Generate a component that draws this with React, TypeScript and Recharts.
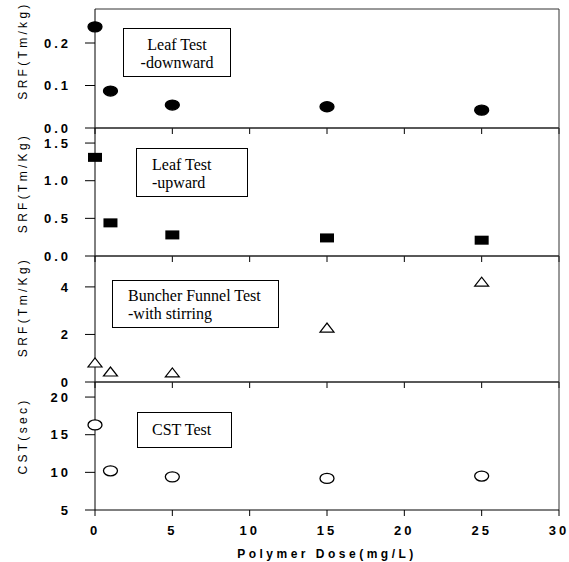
import React from "react";
import { ScatterChart, Scatter, XAxis, YAxis, ReferenceLine } from "recharts";

const doses = [0, 1, 5, 15, 25];
const leafDown = [0.238, 0.087, 0.054, 0.05, 0.042];
const leafUp = [1.31, 0.44, 0.28, 0.24, 0.21];
const buncher = [0.8, 0.42, 0.38, 2.27, 4.2];
const cst = [16.3, 10.2, 9.4, 9.2, 9.5];

const xTicks = [0, 5, 10, 15, 20, 25, 30];

const W = 569;
const H = 562;
const LEFT = 95;
const RIGHT = 559;

const tickFont = {
  fontFamily: "Liberation Sans, Arial, sans-serif",
  fontSize: 13,
  fontWeight: 600,
  letterSpacing: 3,
  fill: "#000",
};

const line = { stroke: "#000", strokeWidth: 1 };

const toRows = (ys: number[]) => doses.map((d, i) => ({ x: d, y: ys[i] }));

const Ellipse = (filled: boolean) => (p: any) => (
  <ellipse
    cx={p.cx}
    cy={p.cy}
    rx={7}
    ry={5}
    fill={filled ? "#000" : "#fff"}
    stroke="#000"
    strokeWidth={1.3}
  />
);

const Rect = (p: any) => (
  <rect x={p.cx - 7} y={p.cy - 4.5} width={14} height={9} fill="#000" />
);

const Tri = (p: any) => (
  <path
    d={`M${p.cx - 7},${p.cy + 4} L${p.cx + 7},${p.cy + 4} L${p.cx},${p.cy - 5} Z`}
    fill="#fff"
    stroke="#000"
    strokeWidth={1.2}
  />
);

type PanelProps = {
  top: number;
  bottom: number;
  rows: { x: number; y: number }[];
  domain: [number, number];
  ticks: number[];
  fmt: (v: number) => string;
  title: string;
  titleDy: number;
  shape: any;
  last?: boolean;
};

function Panel({ top, bottom, rows, domain, ticks, fmt, title, titleDy, shape, last }: PanelProps) {
  const xH = last ? 50 : 10;
  return (
    <div style={{ position: "absolute", left: 0, top: 0 }}>
      <ScatterChart
        width={W}
        height={H}
        margin={{ top, bottom: H - bottom - xH, left: LEFT - 60, right: W - RIGHT }}
      >
        <XAxis
          type="number"
          dataKey="x"
          domain={[0, 30]}
          ticks={xTicks}
          height={xH}
          axisLine={line}
          tickLine={line}
          tickSize={6}
          tickMargin={10}
          tick={tickFont}
          tickFormatter={last ? (v: number) => String(v) : () => ""}
          label={
            last
              ? {
                  value: "Polymer Dose(mg/L)",
                  position: "insideBottom",
                  offset: 2,
                  style: { ...tickFont, fontSize: 12, letterSpacing: 3.5 },
                }
              : undefined
          }
        />
        <YAxis
          type="number"
          dataKey="y"
          domain={domain}
          ticks={ticks}
          width={60}
          axisLine={line}
          tickLine={line}
          tickSize={10}
          tickMargin={14}
          tick={tickFont}
          tickFormatter={fmt}
          label={{
            value: title,
            angle: -90,
            position: "insideLeft",
            offset: 28,
            dx: -40,
            dy: titleDy,
            style: { ...tickFont, fontSize: 12, fontWeight: 500, letterSpacing: 3.3, textAnchor: "middle" },
          }}
        />
        <ReferenceLine y={domain[1]} stroke="#333" strokeWidth={1} />
        <ReferenceLine x={30} stroke="#333" strokeWidth={1} />
        <Scatter data={rows} shape={shape} isAnimationActive={false} />
      </ScatterChart>
    </div>
  );
}

const boxStyle: React.CSSProperties = {
  position: "absolute",
  border: "1.5px solid #000",
  background: "#fff",
  fontFamily: "Liberation Serif, Times New Roman, serif",
  fontSize: 16,
  lineHeight: "18px",
  boxSizing: "border-box",
  color: "#000",
};

export default function App() {
  return (
    <div style={{ position: "absolute", left: 0, top: 0, width: W, height: H, background: "#fff" }}>
      <Panel
        top={9}
        bottom={128}
        rows={toRows(leafDown)}
        domain={[0, 0.28]}
        ticks={[0, 0.1, 0.2]}
        fmt={(v) => v.toFixed(1)}
        title="SRF(Tm/kg)"
        titleDy={-18}
        shape={Ellipse(true)}
      />
      <Panel
        top={128}
        bottom={256}
        rows={toRows(leafUp)}
        domain={[0, 1.7]}
        ticks={[0, 0.5, 1, 1.5]}
        fmt={(v) => v.toFixed(1)}
        title="SRF(Tm/Kg)"
        titleDy={-9}
        shape={Rect}
      />
      <Panel
        top={256}
        bottom={382}
        rows={toRows(buncher)}
        domain={[0, 5.3]}
        ticks={[0, 2, 4]}
        fmt={(v) => String(v)}
        title="SRF(Tm/Kg)"
        titleDy={-12}
        shape={Tri}
      />
      <Panel
        top={382}
        bottom={510}
        rows={toRows(cst)}
        domain={[5, 22]}
        ticks={[5, 10, 15, 20]}
        fmt={(v) => String(v)}
        title="CST(sec)"
        titleDy={-10}
        shape={Ellipse(false)}
        last
      />
      <div style={{ ...boxStyle, left: 123, top: 28, width: 108, height: 49, textAlign: "center", paddingTop: 7 }}>
        Leaf Test
        <br />
        -downward
      </div>
      <div style={{ ...boxStyle, left: 136, top: 148, width: 112, height: 49, paddingLeft: 15, paddingTop: 7 }}>
        Leaf Test
        <br />
        -upward
      </div>
      <div style={{ ...boxStyle, left: 112, top: 280, width: 167, height: 48, paddingLeft: 15, paddingTop: 6 }}>
        Buncher Funnel Test
        <br />
        -with stirring
      </div>
      <div style={{ ...boxStyle, left: 137, top: 412, width: 95, height: 36, paddingLeft: 14, paddingTop: 8 }}>
        CST Test
      </div>
    </div>
  );
}
